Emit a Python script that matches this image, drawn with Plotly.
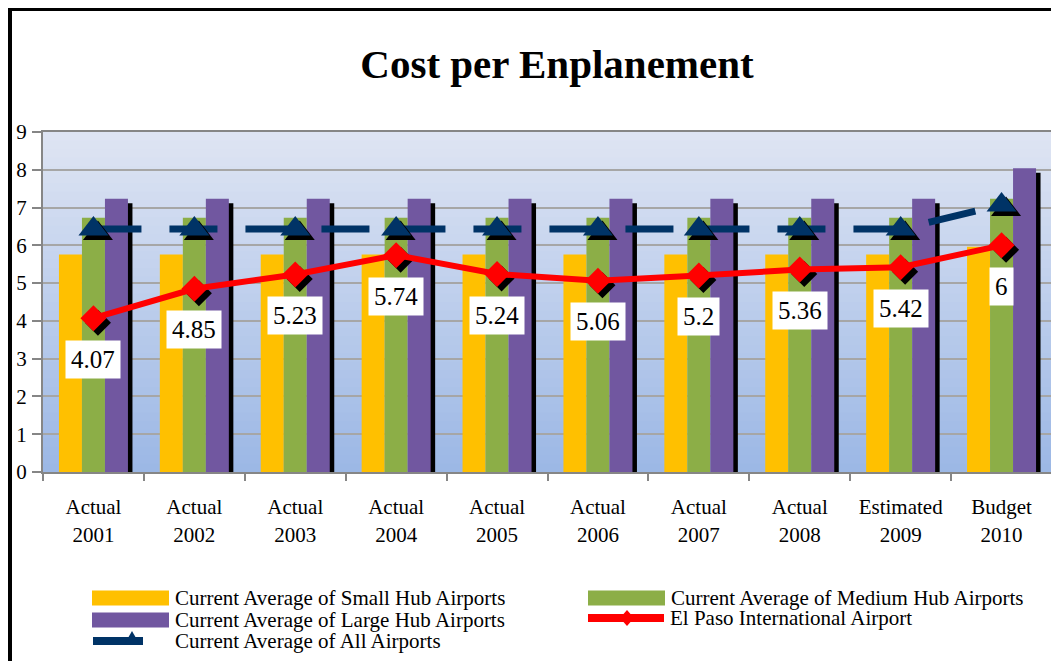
import plotly.graph_objects as go

# ── Data ─────────────────────────────────────────────────────────
years = ["Actual<br>2001", "Actual<br>2002", "Actual<br>2003", "Actual<br>2004",
         "Actual<br>2005", "Actual<br>2006", "Actual<br>2007", "Actual<br>2008",
         "Estimated<br>2009", "Budget<br>2010"]
small_hub = [5.76, 5.76, 5.76, 5.76, 5.76, 5.76, 5.76, 5.76, 5.76, 5.96]
medium_hub = [6.73, 6.73, 6.73, 6.73, 6.73, 6.73, 6.73, 6.73, 6.73, 7.23]
large_hub = [7.23, 7.23, 7.23, 7.23, 7.23, 7.23, 7.23, 7.23, 7.23, 8.04]
all_airports = [6.43, 6.43, 6.43, 6.43, 6.43, 6.43, 6.43, 6.43, 6.43, 7.07]
el_paso = [4.07, 4.85, 5.23, 5.74, 5.24, 5.06, 5.2, 5.36, 5.42, 6]

# ── Style ────────────────────────────────────────────────────────
FONT = "Liberation Serif"
YELLOW = "#ffc000"
GREEN = "#8cae47"
PURPLE = "#7157a0"
NAVY = "#003366"
RED = "#ff0000"
GRID = "#a6a6a6"
AXIS = "#868686"

# the page body adds an 8px margin, so the figure is drawn 8px smaller
OFF = 8
FIG_W, FIG_H = 1059 - OFF, 661 - OFF

# plot area in (page) pixels
L, R, T, B = 43, 1052, 132, 472
W, H = R - L, B - T
X_UNIT = W / 10      # px per category
Y_UNIT = H / 9       # px per value unit


def px_x(px):
    return (px - L) / W


def px_y(py):
    return (B - py) / H


idx = list(range(len(years)))
bar_w = 23 / X_UNIT
sh_dx = 4.5 / X_UNIT   # shadow offset (x units)
sh_dy = 4.5 / Y_UNIT   # shadow offset (y units)

fig = go.Figure()

fig.add_trace(go.Bar(x=idx, y=small_hub, width=bar_w, offset=-34.5 / X_UNIT,
                     marker=dict(color=YELLOW, line_width=0), showlegend=False))
fig.add_trace(go.Bar(x=idx, y=medium_hub, width=bar_w, offset=-11.5 / X_UNIT,
                     marker=dict(color=GREEN, line_width=0), showlegend=False))
# drop shadow behind the large hub bars
fig.add_trace(go.Bar(x=idx, y=[v - sh_dy for v in large_hub], width=bar_w,
                     offset=11.5 / X_UNIT + sh_dx,
                     marker=dict(color="black", line_width=0), showlegend=False,
                     hoverinfo="skip"))
fig.add_trace(go.Bar(x=idx, y=large_hub, width=bar_w, offset=11.5 / X_UNIT,
                     marker=dict(color=PURPLE, line_width=0), showlegend=False))

# all airports: dashed line + triangles with shadow
fig.add_trace(go.Scatter(x=idx, y=all_airports, mode="lines",
                         line=dict(color=NAVY, width=7, dash="48px,28px"),
                         showlegend=False))
fig.add_trace(go.Scatter(x=[i + sh_dx for i in idx], y=[v - sh_dy for v in all_airports],
                         mode="markers", marker=dict(symbol="triangle-up", size=26, color="black"),
                         showlegend=False, hoverinfo="skip"))
fig.add_trace(go.Scatter(x=idx, y=all_airports, mode="markers",
                         marker=dict(symbol="triangle-up", size=26, color=NAVY),
                         showlegend=False))

# El Paso: red line + diamonds with shadow
fig.add_trace(go.Scatter(x=[i + sh_dx for i in idx], y=[v - sh_dy for v in el_paso],
                         mode="markers", marker=dict(symbol="diamond", size=20, color="black"),
                         showlegend=False, hoverinfo="skip"))
fig.add_trace(go.Scatter(x=idx, y=el_paso, mode="lines+markers",
                         line=dict(color=RED, width=6),
                         marker=dict(symbol="diamond", size=20, color=RED),
                         showlegend=False))

annotations = []
for i, v in zip(idx, el_paso):
    annotations.append(dict(x=i, y=v, yshift=-41, text=f"{v:g}", showarrow=False,
                            font=dict(family=FONT, size=25, color="black"),
                            bgcolor="white", borderpad=5))

# ── background gradient, frame, legend ───────────────────────────
shapes = []
n_strips = 40
top_rgb, bot_rgb = (223, 229, 243), (155, 183, 229)
for k in range(n_strips):
    t = (k + 0.5) / n_strips
    c = tuple(round(bot_rgb[j] + (top_rgb[j] - bot_rgb[j]) * t) for j in range(3))
    shapes.append(dict(type="rect", xref="paper", yref="paper", x0=0, x1=1,
                       y0=k / n_strips, y1=(k + 1) / n_strips + 0.002,
                       fillcolor=f"rgb{c}", line_width=0, layer="below"))

# outer black frame (left + top)
shapes.append(dict(type="line", xref="paper", yref="paper", x0=px_x(9.5), x1=px_x(9.5),
                   y0=px_y(7), y1=px_y(661), line=dict(color="black", width=5)))
shapes.append(dict(type="line", xref="paper", yref="paper", x0=px_x(7), x1=px_x(1059),
                   y0=px_y(9), y1=px_y(9), line=dict(color="black", width=4)))

legend_items = [
    ("Current Average of Small Hub Airports", "bar", YELLOW, 92, 598),
    ("Current Average of Medium Hub Airports", "bar", GREEN, 588, 598),
    ("Current Average of Large Hub Airports", "bar", PURPLE, 92, 620),
    ("El Paso International Airport", "line_diamond", RED, 585, 618),
    ("Current Average of All Airports", "line_triangle", NAVY, 92, 641),
]


def path_from_px(points):
    return "M" + " L".join(f"{px_x(x)},{px_y(y)}" for x, y in points) + " Z"


for label, kind, color, lx, ly in legend_items:
    if kind == "bar":
        shapes.append(dict(type="rect", xref="paper", yref="paper",
                           x0=px_x(lx), x1=px_x(lx + 77), y0=px_y(ly - 7.5), y1=px_y(ly + 7.5),
                           fillcolor=color, line_width=0))
        tx = lx + 81
    elif kind == "line_diamond":
        shapes.append(dict(type="line", xref="paper", yref="paper",
                           x0=px_x(lx + 3), x1=px_x(lx + 79), y0=px_y(ly), y1=px_y(ly),
                           line=dict(color=color, width=8)))
        cx = lx + 42
        shapes.append(dict(type="path", xref="paper", yref="paper",
                           path=path_from_px([(cx - 7, ly), (cx, ly - 8), (cx + 7, ly), (cx, ly + 8)]),
                           fillcolor=color, line_width=0))
        tx = lx + 83
    else:
        shapes.append(dict(type="line", xref="paper", yref="paper",
                           x0=px_x(lx + 1), x1=px_x(lx + 51), y0=px_y(ly), y1=px_y(ly),
                           line=dict(color=color, width=8)))
        cx = lx + 40
        shapes.append(dict(type="path", xref="paper", yref="paper",
                           path=path_from_px([(cx - 8, ly + 4), (cx, ly - 10), (cx + 8, ly + 4)]),
                           fillcolor=color, line_width=0))
        tx = lx + 81
    annotations.append(dict(xref="paper", yref="paper", x=px_x(tx), y=px_y(ly),
                            xanchor="left", yanchor="middle", text=label, showarrow=False,
                            font=dict(family=FONT, size=21, color="black")))

fig.update_layout(
    width=FIG_W, height=FIG_H,
    margin=dict(l=L - OFF, r=1059 - R, t=T - OFF, b=661 - B, autoexpand=False),
    paper_bgcolor="white",
    plot_bgcolor="#bccbea",
    barmode="overlay",
    showlegend=False,
    title=dict(text="<b>Cost per Enplanement</b>", x=(557 - OFF) / FIG_W, xanchor="center",
               y=1 - (64 - OFF) / FIG_H, yanchor="middle",
               font=dict(family=FONT, size=41, color="black")),
    xaxis=dict(range=[-0.5, 9.5], tickmode="array", tickvals=idx, ticktext=years,
               ticks="", showgrid=False, zeroline=False, automargin=False,
               showline=True, linecolor=AXIS, linewidth=2, mirror=True,
               tickfont=dict(family=FONT, size=21, color="black"),
               ticklabelstandoff=15,
               minor=dict(tickmode="array", tickvals=[i - 0.5 for i in range(len(years) + 1)],
                          ticks="outside", ticklen=7, tickcolor=AXIS, tickwidth=1.5,
                          showgrid=False)),
    yaxis=dict(range=[0, 9], dtick=1, showgrid=True, gridcolor=GRID, gridwidth=1.5,
               zeroline=False, showline=True, linecolor=AXIS, linewidth=2, mirror=True,
               automargin=False,
               ticks="outside", ticklen=9, tickcolor=AXIS, tickwidth=1.5,
               tickfont=dict(family=FONT, size=21, color="black"),
               ticklabelstandoff=1),
    shapes=shapes,
    annotations=annotations,
)

fig.write_html("out.html")
